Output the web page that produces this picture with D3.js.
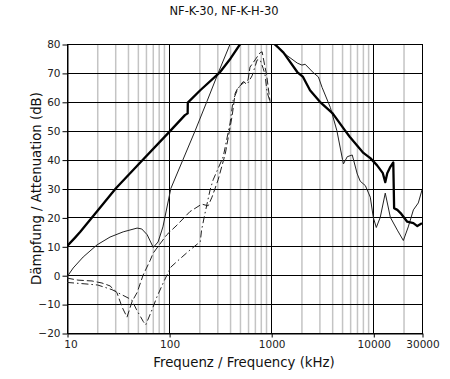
<!DOCTYPE html>
<html><head><meta charset="utf-8">
<script src="https://cdn.jsdelivr.net/npm/d3@7"></script>
<style>body{margin:0;background:#fff}</style>
</head><body><svg id="c" width="450" height="379"></svg>
<script>
const title = "NF-K-30, NF-K-H-30";
const xLabel = "Frequenz / Frequency (kHz)";
const yLabel = "Dämpfung / Attenuation (dB)";
const xTickValues = [10, 100, 1000, 10000, 30000];
const yTickValues = [80, 70, 60, 50, 40, 30, 20, 10, 0, -10, -20];

// [frequency kHz, attenuation dB]
const thickSeries = [[10,10],[12,13],[13.5,15],[20,22.4],[30,30],[50,38.3],[100,49.5],[143,55.4],[152,56],[152.5,59.7],[202,64],[316,70.3],[400,75],[497,80],[560,86],[950,86],[1080,80],[1320,77],[1800,70.3],[2050,68.6],[2400,64],[3000,60],[4000,56],[5300,50],[5900,47.8],[8000,42.3],[9350,40.5],[10900,38],[12400,35.3],[13100,32.2],[13700,35.3],[14700,37.5],[15700,39],[16000,23.2],[17200,22.6],[18500,21.5],[21500,18.5],[24700,18],[27000,17],[30000,18]];

const thinSeries = [[10,-0.6],[11.5,2.5],[14.4,6.3],[19.7,10.5],[26.4,13.2],[35.5,15],[48.6,16.3],[54,16],[61,14],[70,9.6],[78,11.5],[87,16.7],[104,30],[180,50],[234,60],[303,70],[396,80],[450,86],[1000,86],[1050,80],[1430,76],[1800,73.4],[2000,72.7],[2150,73],[2600,70],[2900,68.6],[3150,65],[3800,58],[4400,50],[5000,40],[5100,38.5],[5560,41],[6220,41.6],[6970,35],[7460,32.5],[8360,31],[9350,27],[10000,20],[10700,16.5],[11700,20],[13100,28.4],[14700,20],[17200,15.6],[19700,12],[22000,16.7],[24700,22.6],[27600,25],[30000,29.5]];

const dashSeries = [[10,-1],[12.8,-1.7],[17.6,-2],[22,-2.7],[26.4,-3.7],[30.8,-6],[34.6,-11],[38.7,-14.5],[43.5,-9],[48.6,-6],[55.6,0],[65,5],[70,7.7],[95,14],[120,17.4],[160,22],[209,24.6],[241,24],[263,27],[302,33],[355,42],[414,55],[444,63],[475,65],[533,66.5],[593,67.5],[620,72],[695,74.5],[780,77],[815,77.3],[870,72],[900,69.6],[975,60]];

const dashDotSeries = [[10,-2.5],[15,-3],[20,-3.4],[27.6,-5],[34.6,-6.8],[43,-8.5],[48.1,-12],[55.8,-16],[59,-17.2],[68,-12],[76,-7.5],[88,-2.5],[104,2.8],[119,4.7],[160,8.7],[202,11.6],[208,15.6],[225,21.5],[252,29.5],[270,33],[339,41],[396,52.7],[424,60.6],[465,64],[497,65.8],[533,67],[580,66],[650,69],[729,74.5],[780,74.5],[836,71.5],[870,69.4],[910,63.5],[975,60]];

const svg = d3.select("#c");
const L = 67, R = 422, T = 44, B = 333;
const x = d3.scaleLog().domain([10, 30000]).range([L, R]);
const y = d3.scaleLinear().domain([-20, 80]).range([B, T]);
const font = "'DejaVu Sans', Verdana, sans-serif";

// minor vertical grid
const minor = [];
for (let d = 10; d < 30000; d *= 10)
  for (let k = 2; k <= 9; k++) { const v = d * k; if (v < 30000) minor.push(v); }
svg.append("g").selectAll("line").data(minor).join("line")
  .attr("x1", d => x(d)).attr("x2", d => x(d)).attr("y1", T).attr("y2", B)
  .attr("stroke", "#c4c4c4").attr("stroke-width", 1.5);

// horizontal grid
svg.append("g").selectAll("line").data(yTickValues).join("line")
  .attr("x1", L).attr("x2", R).attr("y1", d => Math.round(y(d)) + 0.5).attr("y2", d => Math.round(y(d)) + 0.5)
  .attr("stroke", "#000").attr("stroke-width", 1);

// major vertical grid
svg.append("g").selectAll("line").data([100, 1000, 10000]).join("line")
  .attr("x1", d => Math.round(x(d)) + 0.5).attr("x2", d => Math.round(x(d)) + 0.5).attr("y1", T).attr("y2", B)
  .attr("stroke", "#000").attr("stroke-width", 1);

svg.append("rect").attr("x", L + 0.5).attr("y", T + 0.5).attr("width", R - L).attr("height", B - T)
  .attr("fill", "none").attr("stroke", "#000").attr("stroke-width", 1);

// axes
const yAxis = svg.append("g").attr("transform", `translate(${L + 0.5},0.5)`)
  .call(d3.axisLeft(y).tickValues(yTickValues).tickSize(5).tickSizeOuter(0).tickPadding(2));
const xAxis = svg.append("g").attr("transform", `translate(0.5,${B + 0.5})`)
  .call(d3.axisBottom(x).tickValues(xTickValues).tickFormat(d3.format("d")).tickSize(4).tickSizeOuter(0).tickPadding(3));
[yAxis, xAxis].forEach(a => {
  a.select(".domain").attr("stroke", "#000");
  a.selectAll("text").attr("font-family", font).attr("font-size", 10.5).attr("fill", "#222");
  a.selectAll(".tick line").attr("stroke", "#000");
});
xAxis.selectAll(".tick text").filter(d => d === 10).attr("dx", 3);

// curves
svg.append("clipPath").attr("id", "clip").append("rect")
  .attr("x", L).attr("y", T).attr("width", R - L).attr("height", B - T);
const line = d3.line().x(d => x(d[0])).y(d => y(d[1]));
const g = svg.append("g").attr("clip-path", "url(#clip)");
g.append("path").datum(dashDotSeries).attr("d", line).attr("fill", "none")
  .attr("stroke", "#222").attr("stroke-width", 1).attr("stroke-dasharray", "7,3,1.5,3");
g.append("path").datum(dashSeries).attr("d", line).attr("fill", "none")
  .attr("stroke", "#222").attr("stroke-width", 1).attr("stroke-dasharray", "7,3");
g.append("path").datum(thinSeries).attr("d", line).attr("fill", "none")
  .attr("stroke", "#222").attr("stroke-width", 1);
g.append("path").datum(thickSeries).attr("d", line).attr("fill", "none")
  .attr("stroke", "#000").attr("stroke-width", 2.3).attr("stroke-linejoin", "round");

// labels
svg.append("text").attr("x", 224).attr("y", 15).attr("text-anchor", "middle")
  .attr("font-family", font).attr("font-size", 11.5).attr("fill", "#111").text(title);
svg.append("text").attr("x", 244).attr("y", 367).attr("text-anchor", "middle")
  .attr("font-family", font).attr("font-size", 13.3).attr("fill", "#111").text(xLabel);
svg.append("text").attr("transform", `translate(41,${(T + B) / 2}) rotate(-90)`).attr("text-anchor", "middle")
  .attr("font-family", font).attr("font-size", 13.3).attr("fill", "#111").text(yLabel);
</script></body></html>
